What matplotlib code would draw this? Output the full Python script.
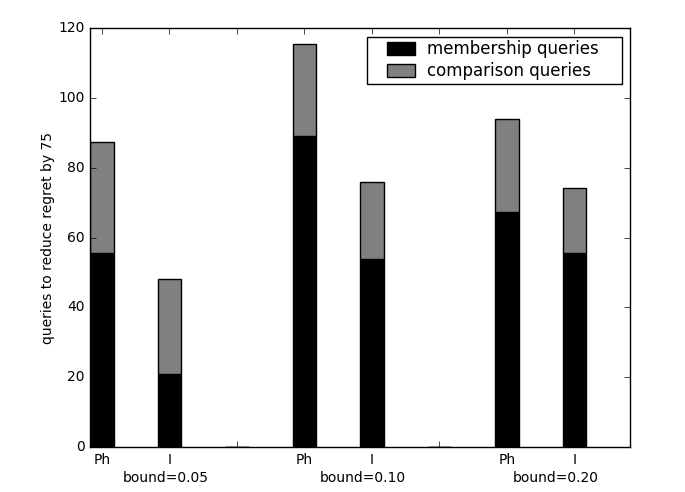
import numpy as np
import matplotlib
matplotlib.use('Agg')
import matplotlib.pyplot as plt
from matplotlib.patches import Rectangle
from matplotlib.container import BarContainer
from matplotlib.legend_handler import HandlerPatch, update_from_first_child

plt.style.use('classic')
matplotlib.rcParams['font.family'] = ['DejaVu Sans']
matplotlib.rcParams['font.size'] = 10
matplotlib.rcParams['figure.facecolor'] = 'white'

# data (the empty slots separate the bound groups)
tick_labels = ['Ph', 'I', '', 'Ph', 'I', '', 'Ph', 'I']
membership = [55.7, 21.0, 0, 89.1, 53.8, 0, 67.3, 55.6]
comparison = [31.7, 27.2, 0, 26.3, 22.1, 0, 26.6, 18.7]
group_labels = ['bound=0.05', 'bound=0.10', 'bound=0.20']

width = 0.35
x = np.arange(len(membership))


def inset_patch(legend, orig_handle, xdescent, ydescent, width, height, fontsize):
    # old-style legend: small swatch with a wide left margin
    sw = 20.0
    sh = 9.5
    return Rectangle((-xdescent + width - sw, -ydescent + (height - sh) / 2), sw, sh)


fig = plt.figure(figsize=(6.85, 4.92), dpi=100)
ax = fig.add_axes([90 / 685, 45 / 492, 540 / 685, 419 / 492])

ax.bar(x, membership, width, align='edge', color='k', edgecolor='k',
       label='membership queries')
ax.bar(x, comparison, width, align='edge', bottom=membership, color='0.5',
       edgecolor='k', label='comparison queries')

ax.set_xlim(0, 8)
ax.set_ylim(0, 120)
ax.set_xticks(x + width / 2)
ax.set_xticklabels(tick_labels)
ax.set_ylabel('queries to reduce regret by 75', labelpad=2)

# group captions under the tick labels
for xf, lab in zip([0.141, 0.506, 0.863], group_labels):
    ax.annotate(lab, xy=(xf, 0), xycoords='axes fraction',
                xytext=(0, -25.5), textcoords='offset points',
                ha='center', va='baseline')

handler = HandlerPatch(patch_func=inset_patch, update_func=update_from_first_child)
ax.legend(loc='upper right', mode='expand',
          bbox_to_anchor=(0.5124, 0, 0.4722, 0.979), borderaxespad=0,
          borderpad=0.2, labelspacing=0.25, handlelength=2.68,
          handletextpad=0.72,
          handler_map={BarContainer: handler})

plt.savefig('out.png', dpi=100)
plt.close()
